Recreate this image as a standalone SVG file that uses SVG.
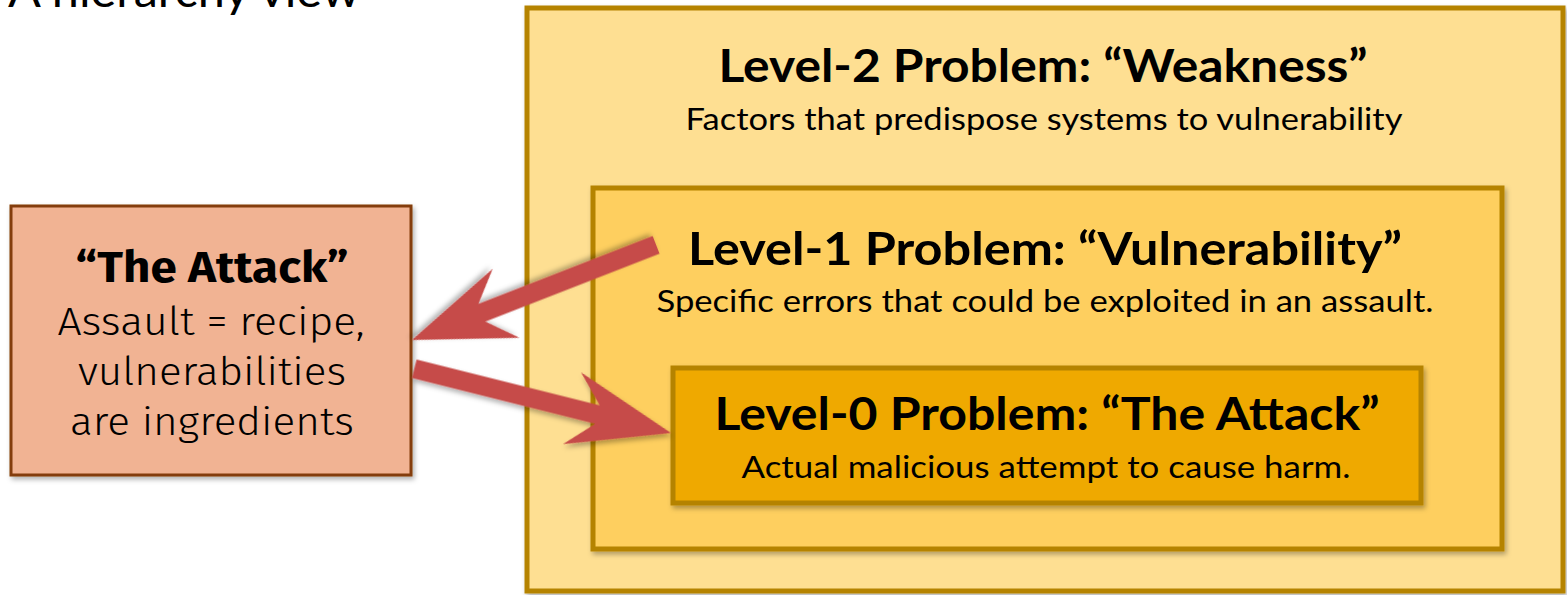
<svg xmlns="http://www.w3.org/2000/svg" width="1567" height="595" viewBox="0 0 1567 595">
<defs>
<filter id="sh" x="-10%" y="-10%" width="130%" height="130%">
<feDropShadow dx="2" dy="3" stdDeviation="2.5" flood-color="#000" flood-opacity="0.3"/>
</filter>
<path id="arrow" d="M0,0 L-101,-37 L-75,-9.5 L-262,-9.5 L-262,9.5 L-75,9.5 L-101,37 Z"/>
</defs>
<style>
.box{stroke:#B58300;stroke-width:5;filter:url(#sh)}
.h{font-family:Lato,"Open Sans",sans-serif;font-weight:bold;font-size:46px;fill:#000;text-anchor:middle}
.s{font-family:Lato,"Open Sans",sans-serif;font-size:31px;fill:#000;text-anchor:middle}
.lh{font-family:"Fira Sans","Open Sans",sans-serif;font-weight:bold;font-size:44px;fill:#000;text-anchor:middle}
.ls{font-family:"Fira Sans",Roboto,sans-serif;font-weight:300;font-size:40px;fill:#000;text-anchor:middle}
.arr{fill:#C64B48;filter:url(#sh)}
</style>
<rect width="1567" height="595" fill="#fff"/>
<text x="8" y="7" font-family="Lato,'Open Sans',sans-serif" font-size="46" textLength="352" lengthAdjust="spacingAndGlyphs">A hierarchy view</text>
<g id="level2">
<rect class="box" x="527" y="8" width="1036" height="583" fill="#FEDF92"/>
<text class="h" x="1043" y="82" textLength="649" lengthAdjust="spacingAndGlyphs">Level-2 Problem: “Weakness”</text>
<text class="s" x="1044" y="130" textLength="717" lengthAdjust="spacingAndGlyphs">Factors that predispose systems to vulnerability</text>
</g>
<g id="level1">
<rect class="box" x="593" y="188" width="909" height="361" fill="#FECF5E"/>
<text class="h" x="1045" y="265" textLength="714" lengthAdjust="spacingAndGlyphs">Level-1 Problem: “Vulnerability”</text>
<text class="s" x="1045" y="312" textLength="777" lengthAdjust="spacingAndGlyphs">Specific errors that could be exploited in an assault.</text>
</g>
<g id="level0">
<rect class="box" x="673" y="368" width="748" height="135" fill="#EFA900"/>
<text class="h" x="1047" y="430" textLength="665" lengthAdjust="spacingAndGlyphs">Level-0 Problem: “The Attack”</text>
<text class="s" x="1046" y="478" textLength="609" lengthAdjust="spacingAndGlyphs">Actual malicious attempt to cause harm.</text>
</g>
<g id="attack">
<rect x="11" y="206" width="400" height="269" fill="#F1B393" stroke="#843C0C" stroke-width="3" filter="url(#sh)"/>
<text class="lh" x="212" y="282" textLength="273" lengthAdjust="spacingAndGlyphs">“The Attack”</text>
<text class="ls" x="211" y="335" textLength="307" lengthAdjust="spacingAndGlyphs">Assault = recipe,</text>
<text class="ls" x="212" y="385" textLength="268" lengthAdjust="spacingAndGlyphs">vulnerabilities</text>
<text class="ls" x="212" y="435" textLength="284" lengthAdjust="spacingAndGlyphs">are ingredients</text>
</g>
<g id="connectors">
<use href="#arrow" class="arr" transform="translate(412,340) rotate(158.7)"/>
<use href="#arrow" class="arr" transform="translate(671,433) rotate(14.05) scale(1.01,1)"/>
</g>
</svg>
